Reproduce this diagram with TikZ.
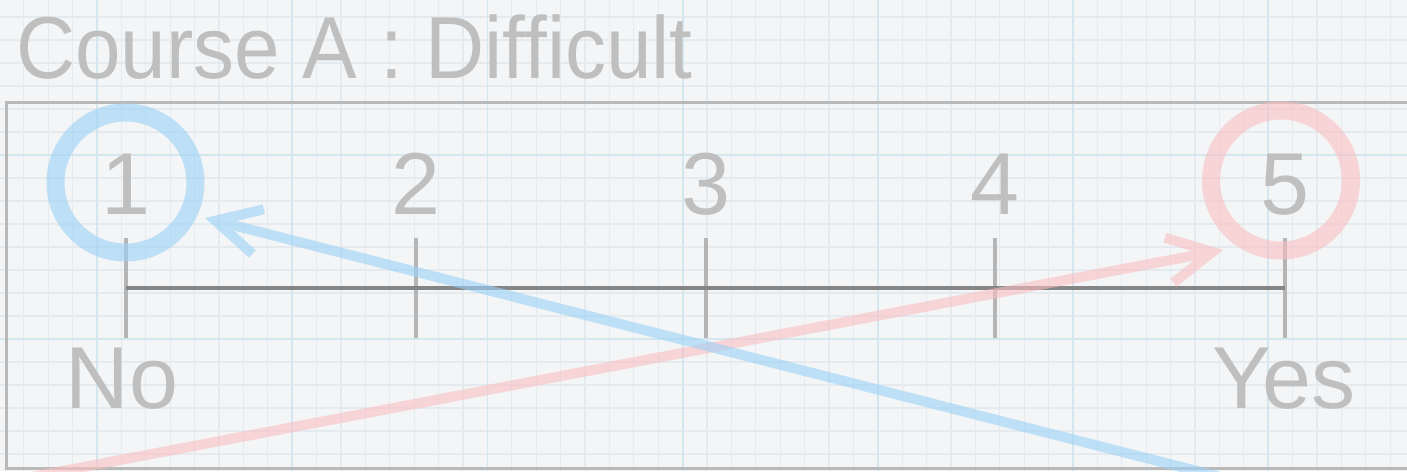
\documentclass[tikz,border=0pt]{standalone}
\usepackage{fontspec}
\setmainfont{Liberation Sans}
\usetikzlibrary{arrows.meta}
\definecolor{bg}{HTML}{F3F5F6}
\definecolor{gridminor}{HTML}{E4EAEE}
\definecolor{gridmajor}{HTML}{D4E7EF}
\definecolor{bordergray}{HTML}{B9B9B9}
\definecolor{textgray}{HTML}{BFBFBF}
\definecolor{tickgray}{HTML}{B5B5B5}
\definecolor{axisgray}{HTML}{858585}
\definecolor{ringblue}{HTML}{9CD2F8}
\definecolor{ringred}{HTML}{FABEC1}
\tikzset{
  minorline/.style={draw=gridminor, line width=0.6pt},
  majorline/.style={draw=gridmajor, line width=0.9pt},
  frame/.style={draw=bordergray, line width=1.5pt},
  txt/.style={text=textgray, inner sep=0pt, font=\fontsize{44}{50}\selectfont},
  tickline/.style={draw=tickgray, line width=2pt},
  axisline/.style={draw=axisgray, line width=2.2pt},
  ring/.style={circle, minimum size=70pt, inner sep=0pt, line width=9pt, draw opacity=0.6},
  pointer/.style={line width=5pt, -{Straight Barb[length=22pt,width=23pt]}}
}
\begin{document}
\begin{tikzpicture}[x=0.5pt,y=-0.5pt]
\useasboundingbox (0,0) rectangle (1407,471);
\clip (0,0) rectangle (1407,471);
\fill[bg] (0,0) rectangle (1407,471);
% grid paper
\foreach \k in {-4,...,54} \draw[minorline] ({97+24.4*\k},0) -- ++(0,471);
\foreach \j in {-7,...,14} \draw[minorline] (0,{155+23*\j}) -- ++(1407,0);
\foreach \m in {0,...,6} \draw[majorline] ({97+195.2*\m},0) -- ++(0,471);
\foreach \j in {0,8} \draw[majorline] (0,{155+23*\j}) -- ++(1407,0);
% frame
\draw[frame] (6,102) rectangle (1440,468);
% title
\node[txt, anchor=base west] (title) at (16,78) {\scalebox{0.93}[1]{Course A : Difficult}};
% scale
\foreach \i/\x in {1/126,2/416,3/706,4/995,5/1285} {
  \coordinate (t\i) at (\x,288);
  \draw[tickline] (\x,238) -- (\x,338);
  \node[txt, anchor=base] (n\i) at (\x,214) {\i};
}
\draw[axisline] (t1) -- (t5);
\node[txt, anchor=base] (no) at (122,408) {No};
\node[txt, anchor=base] (yes) at (1284,408) {Yes};
% rings
\node[ring, draw=ringblue] (ring1) at (125.5,182.5) {};
\node[ring, draw=ringred] (ring5) at (1281,180.5) {};
% arrows
\coordinate (bstart) at (1240,482);
\coordinate (btip) at (205,218);
\coordinate (rstart) at (10,481);
\coordinate (rtip) at (1223,250);
\begin{scope}[transparency group, opacity=0.6]
\draw[pointer, draw=ringred] (rstart) -- (rtip);
\end{scope}
\begin{scope}[transparency group, opacity=0.6]
\draw[pointer, draw=ringblue] (bstart) -- (btip);
\end{scope}
\end{tikzpicture}
\end{document}
